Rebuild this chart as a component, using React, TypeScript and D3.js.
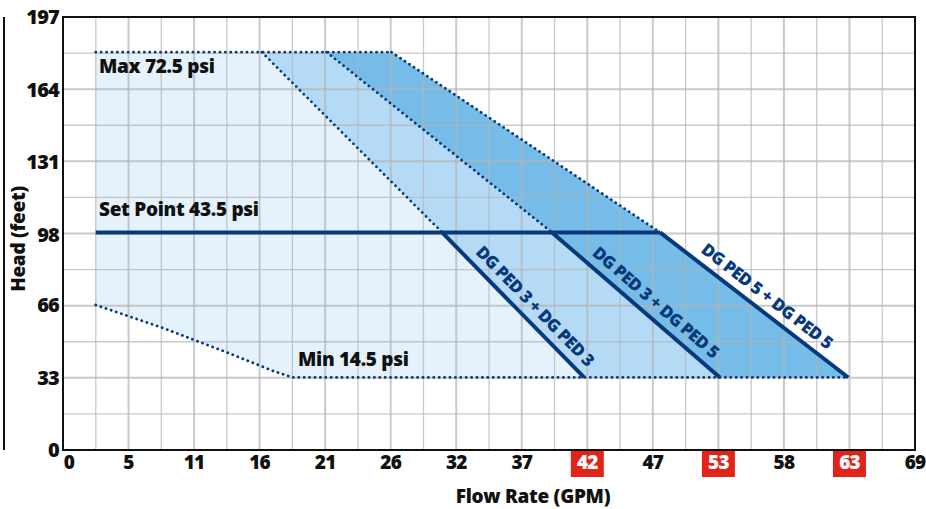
import { useRef, useEffect } from "react";
import * as d3 from "d3";

// axis labels (flow in GPM, head in feet)
const xTickLabels = ["0", "5", "11", "16", "21", "26", "32", "37", "42", "47", "53", "58", "63", "69"];
const highlightLabels = ["42", "53", "63"];
const yTickValues = [0, 33, 66, 98, 131, 164, 197];

// pressure limits (head, feet)
const maxHead = 181;
const setHead = 99;
const minHead = 33;
const startFlow = 2.65;

// min pressure curve at low flow
const minCurveFlow = [2.65, 8, 13, 17, 18.6];
const minCurveHead = [66, 55.7, 45, 36, 33];

// pump combos
const comboNames = ["DG PED 3 + DG PED 3", "DG PED 3 + DG PED 5", "DG PED 5 + DG PED 5"];
const comboTopFlow = [16.1, 21.35, 26.6];
const comboSetFlow = [30.7, 39.6, 48.35];
const comboEndFlow = [42.2, 53.2, 63.6];
const comboFills = ["#e5f1fb", "#b5daf5", "#75bde8"];

const NAVY = "#063a7c";

const App = () => {
  const svgRef = useRef();

  useEffect(() => {
    const svg = d3.select(svgRef.current);
    svg.selectAll("*").remove();

    const width = 926;
    const height = 509;
    const margin = { top: 17, right: 11, bottom: 59, left: 63 };

    const x = d3.scaleLinear().domain([0, 69]).range([margin.left, width - margin.right]);
    const y = d3.scaleLinear().domain([0, 197]).range([height - margin.bottom, margin.top]);

    const nT = xTickLabels.length - 1;
    const xTickPos = xTickLabels.map((_, i) => (i * 69) / nT);

    const line = d3
      .line()
      .x((d) => x(d[0]))
      .y((d) => y(d[1]));

    // ---- fills
    const minCurve = minCurveFlow.map((f, i) => [f, minCurveHead[i]]);
    const fillPolys = [
      [
        [startFlow, maxHead],
        [comboTopFlow[0], maxHead],
        [comboSetFlow[0], setHead],
        [comboEndFlow[0], minHead],
        ...minCurve.slice().reverse(),
      ],
      [
        [comboTopFlow[0], maxHead],
        [comboTopFlow[1], maxHead],
        [comboSetFlow[1], setHead],
        [comboEndFlow[1], minHead],
        [comboEndFlow[0], minHead],
        [comboSetFlow[0], setHead],
      ],
      [
        [comboTopFlow[1], maxHead],
        [comboTopFlow[2], maxHead],
        [comboSetFlow[2], setHead],
        [comboEndFlow[2], minHead],
        [comboEndFlow[1], minHead],
        [comboSetFlow[1], setHead],
      ],
    ];
    svg
      .append("g")
      .selectAll("path")
      .data(fillPolys)
      .enter()
      .append("path")
      .attr("d", (d) => line(d) + "Z")
      .attr("fill", (_, i) => comboFills[i]);

    // ---- grid (minor + major), drawn over the fills
    const grid = svg.append("g").attr("stroke", "#b4b4b4").attr("stroke-opacity", 0.7);
    d3.range(0, nT * 2 + 1).forEach((i) => {
      const xv = x((i * 69) / (nT * 2));
      grid
        .append("line")
        .attr("x1", xv)
        .attr("x2", xv)
        .attr("y1", y(0))
        .attr("y2", y(197))
        .attr("stroke-width", i % 2 ? 1.3 : 2);
    });
    d3.range(0, 13).forEach((i) => {
      const yv = y((i * 197) / 12);
      grid
        .append("line")
        .attr("x1", x(0))
        .attr("x2", x(69))
        .attr("y1", yv)
        .attr("y2", yv)
        .attr("stroke-width", i % 2 ? 1.3 : 2);
    });

    // ---- frame
    svg
      .append("rect")
      .attr("x", x(0))
      .attr("y", y(197))
      .attr("width", x(69) - x(0))
      .attr("height", y(0) - y(197))
      .attr("fill", "none")
      .attr("stroke", "#111")
      .attr("stroke-width", 2);
    svg
      .append("line")
      .attr("x1", 4)
      .attr("x2", 4)
      .attr("y1", y(197))
      .attr("y2", y(0))
      .attr("stroke", "#111")
      .attr("stroke-width", 2);

    // ---- dotted lines
    const dotted = (pts) =>
      svg
        .append("path")
        .attr("d", line(pts))
        .attr("fill", "none")
        .attr("stroke", NAVY)
        .attr("stroke-width", 2.8)
        .attr("stroke-linecap", "round")
        .attr("stroke-dasharray", "0.1 5.3");

    dotted([
      [startFlow, maxHead],
      [comboTopFlow[2], maxHead],
    ]);
    dotted([...minCurve, [comboEndFlow[2], minHead]]);
    comboNames.forEach((_, i) =>
      dotted([
        [comboTopFlow[i], maxHead],
        [comboSetFlow[i], setHead],
      ])
    );

    // ---- solid lines
    const solid = (pts) =>
      svg
        .append("path")
        .attr("d", line(pts))
        .attr("fill", "none")
        .attr("stroke", NAVY)
        .attr("stroke-width", 4);

    solid([
      [startFlow, setHead],
      [comboSetFlow[2], setHead],
    ]);
    const labelT = [0.58, 0.56, 0.52];
    comboNames.forEach((name, i) => {
      solid([
        [comboSetFlow[i], setHead],
        [comboEndFlow[i], minHead],
      ]);
      const x1 = x(comboSetFlow[i]);
      const y1 = y(setHead);
      const x2 = x(comboEndFlow[i]);
      const y2 = y(minHead);
      const len = Math.hypot(x2 - x1, y2 - y1);
      const dx = (x2 - x1) / len;
      const dy = (y2 - y1) / len;
      const t = labelT[i];
      const off = 9; // baseline offset above the line
      const px = x1 + (x2 - x1) * t + dy * off;
      const py = y1 + (y2 - y1) * t - dx * off;
      const ang = (Math.atan2(y2 - y1, x2 - x1) * 180) / Math.PI;
      svg
        .append("text")
        .attr("transform", `translate(${px},${py}) rotate(${ang})`)
        .attr("text-anchor", "middle")
        .attr("font-size", 17)
        .attr("font-weight", 800)
        .attr("fill", NAVY)
        .attr("letter-spacing", -0.6)
        .text(name);
    });

    // ---- labels in plot
    const label = (txt, xv, yv) =>
      svg
        .append("text")
        .attr("x", xv)
        .attr("y", yv)
        .attr("font-size", 19)
        .attr("font-weight", 800)
        .attr("fill", "#111")
        .attr("letter-spacing", -0.3)
        .text(txt);
    label("Max 72.5 psi", 99, 73);
    label("Set Point 43.5 psi", 99, 216);
    label("Min 14.5 psi", 298, 366);

    // ---- y ticks
    svg
      .append("g")
      .selectAll("text")
      .data(yTickValues)
      .enter()
      .append("text")
      .attr("x", 59)
      .attr("y", (d) => y(d))
      .attr("dy", "0.36em")
      .attr("text-anchor", "end")
      .attr("font-size", 20)
      .attr("font-weight", 800)
      .attr("fill", "#111")
      .attr("letter-spacing", -0.8)
      .text((d) => d);

    // ---- x ticks
    const xt = svg.append("g");
    xTickLabels.forEach((lab, i) => {
      const xv = x(xTickPos[i]) + (i === 0 ? 6 : 0);
      const hl = highlightLabels.includes(lab);
      if (hl) {
        xt.append("rect")
          .attr("x", xv - 16.5)
          .attr("y", y(0) + 1)
          .attr("width", 33)
          .attr("height", 26)
          .attr("fill", "#e2231a");
      }
      xt.append("text")
        .attr("x", xv)
        .attr("y", 469)
        .attr("text-anchor", "middle")
        .attr("font-size", 19)
        .attr("font-weight", 800)
        .attr("fill", hl ? "#fff" : "#111")
        .attr("letter-spacing", -0.8)
        .text(lab);
    });

    // ---- axis titles
    svg
      .append("text")
      .attr("x", 533)
      .attr("y", 503)
      .attr("text-anchor", "middle")
      .attr("font-size", 19)
      .attr("font-weight", 800)
      .attr("fill", "#111")
      .attr("letter-spacing", -0.3)
      .text("Flow Rate (GPM)");
    svg
      .append("text")
      .attr("transform", `translate(25,239) rotate(-90)`)
      .attr("text-anchor", "middle")
      .attr("font-size", 19)
      .attr("font-weight", 800)
      .attr("fill", "#111")
      .attr("letter-spacing", -0.3)
      .text("Head (feet)");
  }, []);

  return (
    <svg
      ref={svgRef}
      width={926}
      height={509}
      style={{ position: "absolute", left: 0, top: 0, fontFamily: "'Open Sans', sans-serif", background: "#fff" }}
    ></svg>
  );
};

export default App;
